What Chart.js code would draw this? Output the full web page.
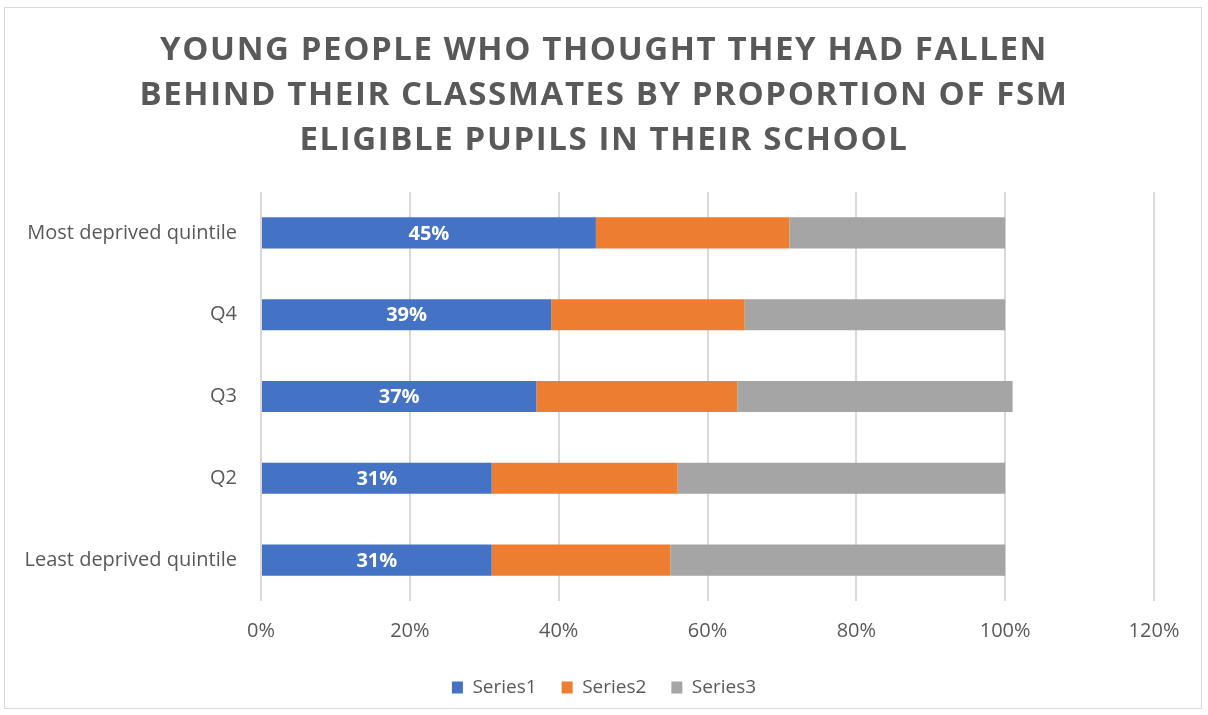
<!DOCTYPE html>
<html lang="en">
<head>
    <meta charset="UTF-8">
    <title>Young people who thought they had fallen behind</title>
    <script src="https://cdn.jsdelivr.net/npm/chart.js"></script>
    <style>
        body {
            margin: 0;
            background: #fff;
            font-family: "Open Sans", Arial, sans-serif;
        }
        .frame {
            position: absolute;
            left: 4px;
            top: 7px;
            width: 1196px;
            height: 700px;
            border: 1px solid #d9d9d9;
        }
        .chart-box {
            position: absolute;
            left: 0;
            top: 0;
            width: 1208px;
            height: 715px;
        }
    </style>
</head>
<body>
    <div class="frame"></div>
    <div class="chart-box">
        <canvas id="fallenChart"></canvas>
    </div>

    <script>
        // data
        const categories = ["Most deprived quintile", "Q4", "Q3", "Q2", "Least deprived quintile"];
        const series1 = [45, 39, 37, 31, 31];
        const series2 = [26, 26, 27, 25, 24];
        const series3 = [29, 35, 37, 44, 45];
        const seriesNames = ["Series1", "Series2", "Series3"];
        const seriesColors = ["#4472C4", "#ED7D31", "#A5A5A5"];
        const titleLines = [
            "YOUNG PEOPLE WHO THOUGHT THEY HAD FALLEN",
            "BEHIND THEIR CLASSMATES BY PROPORTION OF FSM",
            "ELIGIBLE PUPILS IN THEIR SCHOOL"
        ];

        const textGrey = "#595959";

        // spaced-out title + white % labels inside the first series
        const labelPlugin = {
            id: "labelPlugin",
            beforeDraw(chart) {
                const tb = chart.titleBlock;
                if (tb && !tb._spaced) {
                    const orig = tb.draw;
                    tb.draw = function (area) {
                        this.ctx.letterSpacing = "1.6px";
                        orig.call(this, area);
                        this.ctx.letterSpacing = "0px";
                    };
                    tb._spaced = true;
                }
            },
            afterDatasetsDraw(chart) {
                const ctx = chart.ctx;
                const meta = chart.getDatasetMeta(0);
                ctx.save();
                ctx.fillStyle = "#fff";
                ctx.font = "bold 20px 'Open Sans'";
                ctx.textAlign = "center";
                ctx.textBaseline = "middle";
                meta.data.forEach((bar, i) => {
                    const cx = (bar.x + bar.base) / 2;
                    ctx.fillText(series1[i] + "%", cx, bar.y + 1);
                });
                ctx.restore();
            }
        };

        new Chart(document.getElementById("fallenChart"), {
            type: "bar",
            data: {
                labels: categories,
                datasets: [
                    { label: seriesNames[0], data: series1, backgroundColor: seriesColors[0] },
                    { label: seriesNames[1], data: series2, backgroundColor: seriesColors[1] },
                    { label: seriesNames[2], data: series3, backgroundColor: seriesColors[2] }
                ]
            },
            options: {
                indexAxis: "y",
                responsive: true,
                maintainAspectRatio: false,
                animation: false,
                categoryPercentage: 1,
                barPercentage: 0.38,
                layout: { padding: { top: 28, right: 0, bottom: 8, left: 0 } },
                plugins: {
                    title: {
                        display: true,
                        text: titleLines,
                        color: textGrey,
                        font: { family: "'Open Sans'", size: 33, weight: "bold", lineHeight: "45px" },
                        padding: { top: 0, bottom: 29 }
                    },
                    legend: {
                        position: "bottom",
                        labels: {
                            color: textGrey,
                            font: { family: "'Open Sans'", size: 19 },
                            boxWidth: 11,
                            boxHeight: 12,
                            padding: 25
                        }
                    },
                    tooltip: { enabled: false }
                },
                scales: {
                    x: {
                        stacked: true,
                        min: 0,
                        max: 120,
                        ticks: {
                            stepSize: 20,
                            color: textGrey,
                            padding: 18,
                            font: { family: "'Open Sans'", size: 20 },
                            callback: v => v + "%"
                        },
                        grid: { color: "#d9d9d9", lineWidth: 2, drawTicks: false },
                        border: { display: false },
                        afterFit(scale) {
                            scale.height = 52;
                            scale.paddingRight = 54;
                        }
                    },
                    y: {
                        stacked: true,
                        ticks: {
                            color: textGrey,
                            padding: 16,
                            font: { family: "'Open Sans'", size: 20 }
                        },
                        grid: { display: false },
                        border: { display: false },
                        afterFit(scale) { scale.width = 261; }
                    }
                }
            },
            plugins: [labelPlugin]
        });
    </script>
</body>
</html>
